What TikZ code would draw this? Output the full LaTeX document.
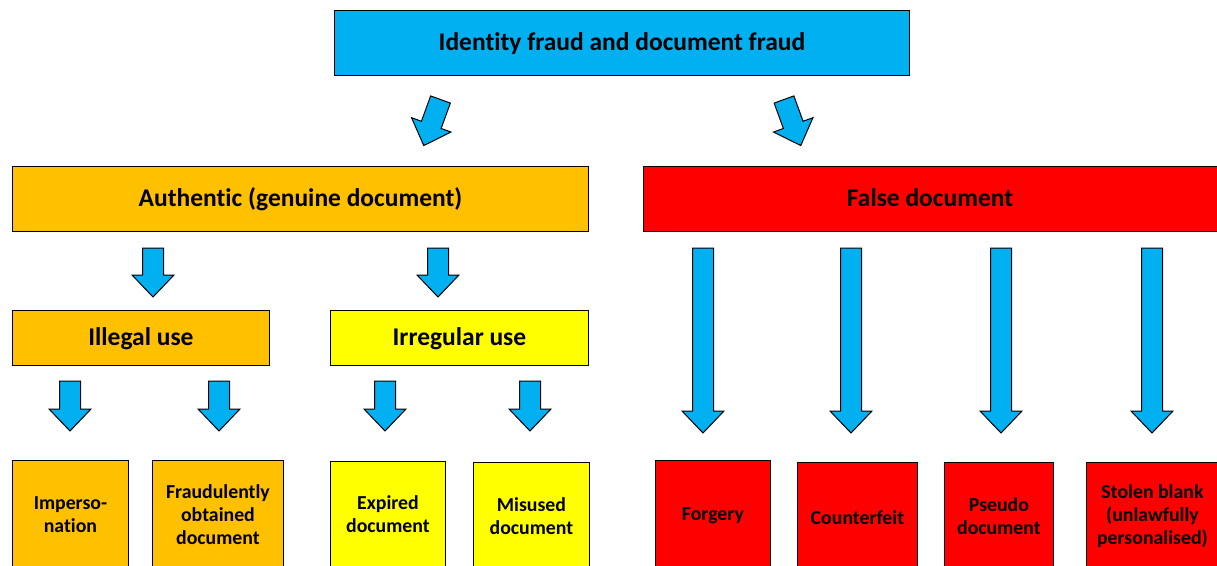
\documentclass[tikz,border=0pt]{standalone}
\usepackage{fontspec}
\setmainfont{Carlito}[Ligatures=NoCommon]
\usetikzlibrary{positioning}

\definecolor{skyblue}{HTML}{00B0F0}
\definecolor{amber}{HTML}{FFC000}
\definecolor{lemon}{HTML}{FFFF00}
\definecolor{signalred}{HTML}{FF0000}

\tikzset{
  box/.style={draw=black, line width=0.9pt, inner sep=0pt, align=center},
  headfont/.style={font=\bfseries\fontsize{25.5}{28}\selectfont,
                   text height=19pt, text depth=3pt},
  headbox/.style={box, headfont},
  leafbox/.style={box, font=\bfseries\fontsize{19.8}{23}\selectfont},
  arrowbody/.style={draw=black, line width=1pt, fill=skyblue, line join=miter},
  % block arrow pointing down from its tail centre, length #1
  pics/blockarrow/.style={code={
    \path[arrowbody] (-10.5,0) -- (10.5,0) -- (10.5,#1-22) -- (21,#1-22)
      -- (0,#1) -- (-21,#1-22) -- (-10.5,#1-22) -- cycle;
  }},
}

\begin{document}
\begin{tikzpicture}[x=1pt, y=-1pt]
\useasboundingbox (0,0) rectangle (1217,565);
\clip (0,0) rectangle (1217,565);

% top level
\node[headbox, fill=skyblue, minimum width=575, minimum height=65, anchor=north west]
  (root) at (334,10) {Identity fraud and document fraud};

% second level
\node[headbox, fill=amber, minimum width=576, minimum height=65, anchor=north west]
  (auth) at (12,166) {Authentic (genuine document)};
\node[box, fill=signalred, minimum width=584, minimum height=65, anchor=north west]
  (false) at (643,166) {};
\node[headfont, inner sep=0pt] (falselabel) at (930,198.5) {False document};

% third level
\node[headbox, fill=amber, minimum width=257, minimum height=55, anchor=north west]
  (illegal) at (12,310) {Illegal use};
\node[headbox, fill=lemon, minimum width=258, minimum height=55, anchor=north west]
  (irregular) at (330,310) {Irregular use};

% leaves
\node[leafbox, fill=amber, minimum width=116, minimum height=108, anchor=north west]
  (imp) at (12,460) {Imperso-\\nation};
\node[leafbox, fill=amber, minimum width=131, minimum height=108, anchor=north west]
  (fraud) at (152,460) {Fraudulently\\obtained\\document};
\node[leafbox, fill=lemon, minimum width=115, minimum height=106, anchor=north west]
  (exp) at (330,461) {Expired\\document};
\node[leafbox, fill=lemon, minimum width=116, minimum height=107, anchor=north west]
  (mis) at (473,462) {Misused\\document};
\node[leafbox, fill=signalred, minimum width=115, minimum height=110, anchor=north west]
  (forg) at (655,460) {Forgery};
\node[leafbox, fill=signalred, minimum width=120, minimum height=110, anchor=north west]
  (count) at (797,462) {Counterfeit};
\node[leafbox, fill=signalred, minimum width=109, minimum height=108, anchor=north west]
  (pseudo) at (944,462) {Pseudo\\document};
\node[leafbox, fill=signalred, minimum width=132, minimum height=108, anchor=north west]
  (stolen) at (1086,462) {Stolen blank\\(unlawfully\\personalised)};

% tilted arrows below the title
\pic[rotate=-20] at (440.5,99.5) {blockarrow=49};
\pic[rotate=20]  at (784,99.5)  {blockarrow=49};

% arrows below "Authentic"
\pic at (153,248) {blockarrow=49};
\pic at (438,248) {blockarrow=49};

% arrows below "Illegal use" and "Irregular use"
\pic at (70,381)  {blockarrow=50};
\pic at (219,381) {blockarrow=50};
\pic at (385,381) {blockarrow=50};
\pic at (530,381) {blockarrow=50};

% long arrows below "False document"
\pic at (703,248)  {blockarrow=185};
\pic at (851,248)  {blockarrow=185};
\pic at (1001,248) {blockarrow=185};
\pic at (1152,248) {blockarrow=185};
\end{tikzpicture}
\end{document}
